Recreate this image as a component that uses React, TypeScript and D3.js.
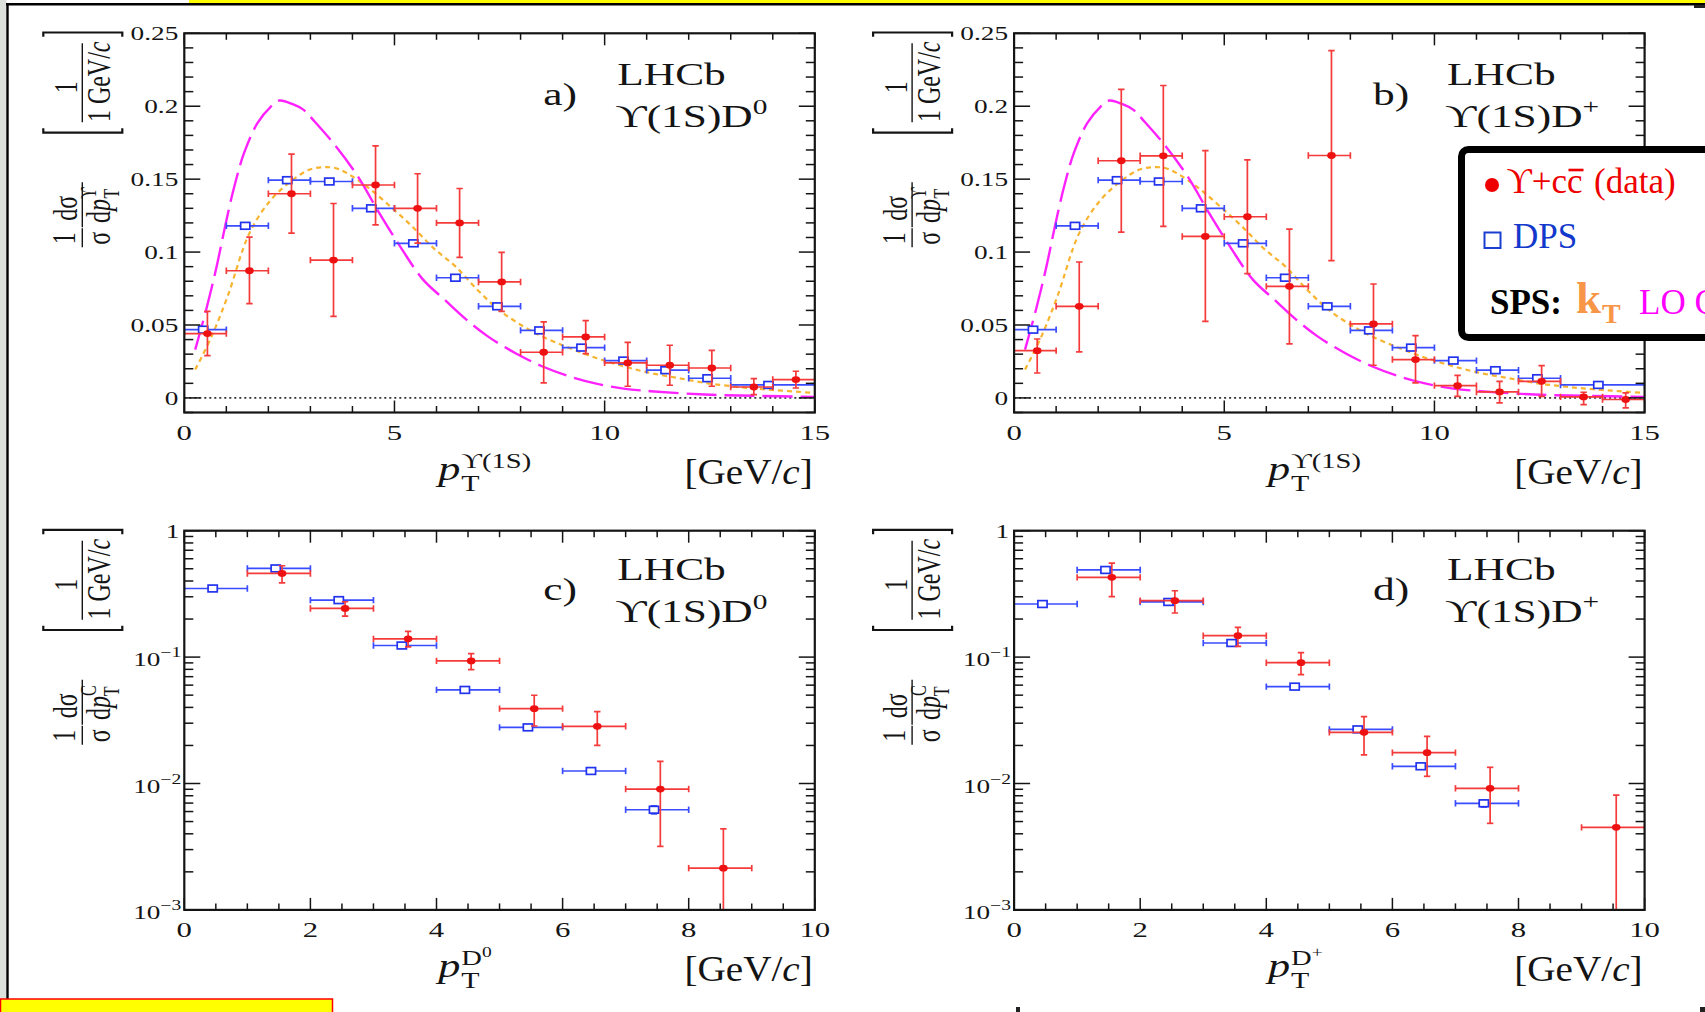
import React from 'react';
import * as d3 from 'd3';

// ---------------- data ----------------
// Upsilon pT panels (a, b): bins 0..15 GeV/c
const upsRedBinLo = [0, 1, 2, 3, 4, 5, 6, 7, 8, 9, 10, 11, 12, 13, 14];
const upsRedBinHi = [1, 2, 3, 4, 5, 6, 7, 8, 9, 10, 11, 12, 13, 14, 15];
const upsRedX = [0.55, 1.55, 2.55, 3.55, 4.55, 5.55, 6.55, 7.55, 8.55, 9.55, 10.55, 11.55, 12.55, 13.55, 14.55];

const aRedY = [0.0441, 0.0872, 0.140, 0.0945, 0.146, 0.130, 0.120, 0.0795, 0.0313, 0.0418, 0.0240, 0.0224, 0.0205, 0.0075, 0.0126];
const aRedHi = [0.0594, 0.1103, 0.1671, 0.1333, 0.1728, 0.1537, 0.1436, 0.0998, 0.0521, 0.0530, 0.0381, 0.0361, 0.0326, 0.0132, 0.0183];
const aRedLo = [0.0290, 0.0646, 0.1130, 0.0559, 0.1187, 0.1062, 0.0963, 0.0594, 0.0103, 0.0304, 0.0080, 0.0087, 0.0080, 0.0023, 0.0068];

const bRedY = [0.0324, 0.0628, 0.1626, 0.166, 0.1107, 0.1242, 0.0765, 0.1662, 0.0507, 0.0263, 0.0084, 0.0041, 0.0114, 0.0007, -0.0011];
const bRedHi = [0.0404, 0.0932, 0.2116, 0.2142, 0.1696, 0.1632, 0.1158, 0.2381, 0.0781, 0.0427, 0.0155, 0.0114, 0.0221, 0.0039, 0.0034];
const bRedLo = [0.0171, 0.0315, 0.1137, 0.1176, 0.0525, 0.0852, 0.0370, 0.0941, 0.0224, 0.0103, 0.0011, -0.0034, 0.0011, -0.0046, -0.0068];

const upsDpsBinLo = [0, 1, 2, 3, 4, 5, 6, 7, 8, 9, 10, 11, 12, 13];
const upsDpsBinHi = [1, 2, 3, 4, 5, 6, 7, 8, 9, 10, 11, 12, 13, 15];
const upsDpsX = [0.45, 1.45, 2.45, 3.45, 4.45, 5.45, 6.45, 7.45, 8.45, 9.45, 10.45, 11.45, 12.45, 13.9];
const upsDpsY = [0.0468, 0.118, 0.1493, 0.1484, 0.130, 0.106, 0.0824, 0.0628, 0.0463, 0.0345, 0.0256, 0.019, 0.0135, 0.0089];

// SPS theory curves (shared by a and b)
const loCsmX = [0.26, 0.52, 0.77, 0.97, 1.19, 1.42, 1.74, 2.06, 2.26, 2.58, 2.84, 3.10, 3.61, 4.13, 4.64, 5.16, 5.68, 6.19, 6.71, 7.22, 7.87, 8.51, 9.16, 9.80, 10.45, 11.09, 12.38, 13.67, 15.0];
const loCsmY = [0.0331, 0.0605, 0.0902, 0.1176, 0.145, 0.1678, 0.1884, 0.1998, 0.2039, 0.2014, 0.1975, 0.1895, 0.1724, 0.1518, 0.1267, 0.1027, 0.0811, 0.0674, 0.0537, 0.0422, 0.0308, 0.0217, 0.0148, 0.0098, 0.0064, 0.0046, 0.0023, 0.0014, 0.0007];
const ktX = [0.26, 0.65, 1.03, 1.55, 2.06, 2.58, 2.97, 3.32, 3.61, 3.87, 4.39, 4.90, 5.42, 5.93, 6.45, 6.97, 7.48, 8.00, 8.51, 9.16, 9.80, 10.45, 11.09, 11.74, 12.38, 13.03, 13.67, 15.0];
const ktY = [0.0194, 0.0422, 0.0696, 0.113, 0.1358, 0.1495, 0.1564, 0.1582, 0.1575, 0.1541, 0.1438, 0.1313, 0.1176, 0.1027, 0.0902, 0.0742, 0.0605, 0.0502, 0.0422, 0.0342, 0.0274, 0.0217, 0.0171, 0.0137, 0.0103, 0.0080, 0.0062, 0.0034];

// charm pT panels (c, d): bins 0..10 GeV/c
const cRedBinLo = [1, 2, 3, 4, 5, 6, 7, 8];
const cRedBinHi = [2, 3, 4, 5, 6, 7, 8, 9];
const cRedX = [1.55, 2.55, 3.55, 4.55, 5.55, 6.55, 7.55, 8.55];
const cRedY = [0.459, 0.2425, 0.1395, 0.0933, 0.0391, 0.02835, 0.00904, 0.00214];
const cRedHi = [0.528, 0.274, 0.160, 0.1067, 0.0499, 0.0370, 0.01497, 0.00438];
const cRedLo = [0.387, 0.211, 0.1205, 0.0797, 0.0285, 0.02004, 0.00318, 0.0002];

const charmDpsBinLo = [0, 1, 2, 3, 4, 5, 6, 7];
const charmDpsBinHi = [1, 2, 3, 4, 5, 6, 7, 8];
const charmDpsX = [0.45, 1.45, 2.45, 3.45, 4.45, 5.45, 6.45, 7.45];
const cDpsY = [0.349, 0.503, 0.2823, 0.1235, 0.0550, 0.0278, 0.01256, 0.00620];
const cDpsErr = [0.008, 0.012, 0.006, 0.003, 0.0012, 0.0007, 0.0005, 0.00045];

const dRedBinLo = [1, 2, 3, 4, 5, 6, 7, 9];
const dRedBinHi = [2, 3, 4, 5, 6, 7, 8, 10];
const dRedX = [1.55, 2.55, 3.55, 4.55, 5.55, 6.55, 7.55, 9.55];
const dRedY = [0.4276, 0.2795, 0.1477, 0.0903, 0.0254, 0.01754, 0.00916, 0.0045];
const dRedHi = [0.5548, 0.335, 0.172, 0.1084, 0.0338, 0.0236, 0.01343, 0.0081];
const dRedLo = [0.3006, 0.2233, 0.1217, 0.0726, 0.01682, 0.0114, 0.00484, 0.0002];
const dDpsY = [0.263, 0.489, 0.273, 0.1293, 0.0584, 0.0268, 0.01368, 0.00697];
const dDpsErr = [0.007, 0.012, 0.006, 0.003, 0.0012, 0.0007, 0.0006, 0.00045];

const linYMajor = [0, 0.05, 0.1, 0.15, 0.2, 0.25];
const linYLabels = ['0', '0.05', '0.1', '0.15', '0.2', '0.25'];
const logYMajor = [1, 0.1, 0.01, 0.001];
const logYExp = ['', '\u22121', '\u22122', '\u22123'];
const upsXMajor = [0, 5, 10, 15];
const charmXMajor = [0, 2, 4, 6, 8, 10];

// ---------------- layout / style ----------------
const PW = 630.5;
const PH = 379.2;
const SX = 1.4;
const FONT = "'Liberation Serif','DejaVu Serif','Times New Roman',serif";
const INK = '#141414';
const RED = '#ee1111';
const REDBAR = '#f43a3a';
const BLUE = '#2233ee';
const BLUEBAR = '#3a4cff';

function SText({ x, y, size, anchor = 'start', italic = false, fill = INK, sx = SX, children }: any) {
  return (
    <text transform={`translate(${x},${y}) scale(${sx},1)`} fontSize={size} textAnchor={anchor}
      fontStyle={italic ? 'italic' : 'normal'} fill={fill} fontFamily={FONT}>{children}</text>
  );
}

function RText({ x, y, size, italic = false, children }: any) {
  return (
    <text transform={`translate(${x},${y}) scale(${SX},1) rotate(-90)`} fontSize={size} textAnchor="middle"
      fontStyle={italic ? 'italic' : 'normal'} fill={INK} fontFamily={FONT}>{children}</text>
  );
}

function YTitle({ L, T, sup }: any) {
  return (
    <g>
      <path d={`M${L - 141},${T + 3.5} V${T - 0.8} H${L - 62} V${T + 3.5}`} fill="none" stroke={INK} strokeWidth={2.2} />
      <path d={`M${L - 141},${T + 95} V${T + 99.3} H${L - 62} V${T + 95}`} fill="none" stroke={INK} strokeWidth={2.2} />
      <line x1={L - 102} x2={L - 102} y1={T + 10} y2={T + 89} stroke={INK} strokeWidth={1.4} />
      <RText x={L - 107} y={T + 54} size={24}>1</RText>
      <RText x={L - 74} y={T + 48.5} size={24}>1 GeV/<tspan fontStyle="italic">c</tspan></RText>
      {/* 1/sigma dsigma/dpT */}
      <RText x={L - 109} y={T + 205} size={24}>1</RText>
      <line x1={L - 102} x2={L - 102} y1={T + 195} y2={T + 214} stroke={INK} strokeWidth={1.4} />
      <RText x={L - 74} y={T + 205} size={24}>σ</RText>
      <RText x={L - 107} y={T + 175} size={24}>dσ</RText>
      <line x1={L - 102} x2={L - 102} y1={T + 149} y2={T + 194} stroke={INK} strokeWidth={1.4} />
      <RText x={L - 74} y={T + 172} size={24}>
        d<tspan fontStyle="italic">p</tspan>
        <tspan fontSize={16} dy={-10}>{sup}</tspan>
        <tspan fontSize={16} dx={-11} dy={16}>T</tspan>
      </RText>
    </g>
  );
}

function ErrPoints({ xs, ys, binLo, binHi, px, py, pyHi, pyLo, color, barColor, marker, clipId }: any) {
  return (
    <g clipPath={`url(#${clipId})`}>
      {px.map((xv: number, i: number) => {
        const cx = xs(xv), cy = ys(py[i]);
        const x0 = xs(binLo[i]), x1 = xs(binHi[i]);
        const yT = ys(pyHi[i]), yB = ys(pyLo[i]);
        const cap = 3.2;
        return (
          <g key={i} stroke={barColor} strokeWidth={1.7} fill="none">
            <line x1={x0} x2={x1} y1={cy} y2={cy} />
            <line x1={x0} x2={x0} y1={cy - cap} y2={cy + cap} />
            <line x1={x1} x2={x1} y1={cy - cap} y2={cy + cap} />
            {Math.abs(yB - yT) > 3 && (
              <g>
                <line x1={cx} x2={cx} y1={yT} y2={yB} />
                <line x1={cx - cap} x2={cx + cap} y1={yT} y2={yT} />
                <line x1={cx - cap} x2={cx + cap} y1={yB} y2={yB} />
              </g>
            )}
            {marker === 'circle'
              ? <ellipse cx={cx} cy={cy} rx={4.3} ry={3.4} fill={color} stroke="none" />
              : <rect x={cx - 4.6} y={cy - 3.4} width={9.2} height={6.8} fill="#fff" stroke={color} strokeWidth={1.7} />}
          </g>
        );
      })}
    </g>
  );
}

function Panel({ id, ox, oy, log, xMax, xMajor, xMinorStep, letter, chan, xSup, ySup, red, dps, curves, tdy }: any) {
  const xs = d3.scaleLinear().domain([0, xMax]).range([ox, ox + PW]);
  const ys: any = log
    ? d3.scaleLog().domain([1e-3, 1]).range([oy + PH, oy])
    : d3.scaleLinear().domain([-0.01, 0.25]).range([oy + PH, oy]);
  const B = oy + PH;
  const R = ox + PW;
  const xMinor = d3.range(0, xMax + 1e-9, xMinorStep).filter((v) => !xMajor.includes(v));
  let yMinor: number[] = [];
  if (log) {
    [-3, -2, -1].forEach((e) => { for (let k = 2; k <= 9; k++) yMinor.push(k * Math.pow(10, e)); });
  } else {
    yMinor = d3.range(-0.01, 0.2501, 0.01).filter((v) => !linYMajor.some((m) => Math.abs(m - v) < 1e-6));
  }
  const yMaj = log ? logYMajor : linYMajor;
  const clipId = `clip-${id}`;
  const line = d3.line<[number, number]>().x((d) => xs(d[0])).y((d) => ys(d[1])).curve(d3.curveCatmullRom);
  return (
    <g>
      <defs>
        <clipPath id={clipId}><rect x={ox} y={oy} width={PW} height={PH} /></clipPath>
      </defs>
      {!log && (
        <line x1={ox} x2={R} y1={ys(0)} y2={ys(0)} stroke="#333" strokeWidth={1.6} strokeDasharray="2,3" />
      )}
      {curves && (
        <g clipPath={`url(#${clipId})`} fill="none">
          <path d={line(curves.ktX.map((v: number, i: number) => [v, curves.ktY[i]])) || ''} stroke="#f7b430" strokeWidth={2.2} strokeDasharray="5,4" />
          <path d={line(curves.loX.map((v: number, i: number) => [v, curves.loY[i]])) || ''} stroke="#ff22ff" strokeWidth={2.4} strokeDasharray="30,8" />
        </g>
      )}
      <ErrPoints xs={xs} ys={ys} {...dps} color={BLUE} barColor={BLUEBAR} marker="square" clipId={clipId} />
      <ErrPoints xs={xs} ys={ys} {...red} color={RED} barColor={REDBAR} marker="circle" clipId={clipId} />
      {/* frame */}
      <rect x={ox} y={oy} width={PW} height={PH} fill="none" stroke={INK} strokeWidth={2.2} />
      {/* ticks */}
      <g stroke={INK} strokeWidth={1.5}>
        {xMajor.map((v: number) => (
          <g key={'xM' + v}>
            <line x1={xs(v)} x2={xs(v)} y1={B} y2={B - 12} />
            <line x1={xs(v)} x2={xs(v)} y1={oy} y2={oy + 12} />
          </g>
        ))}
        {xMinor.map((v: number) => (
          <g key={'xm' + v}>
            <line x1={xs(v)} x2={xs(v)} y1={B} y2={B - 6.5} />
            <line x1={xs(v)} x2={xs(v)} y1={oy} y2={oy + 6.5} />
          </g>
        ))}
        {yMaj.map((v: number) => (
          <g key={'yM' + v}>
            <line x1={ox} x2={ox + 16} y1={ys(v)} y2={ys(v)} />
            <line x1={R} x2={R - 16} y1={ys(v)} y2={ys(v)} />
          </g>
        ))}
        {yMinor.map((v: number) => (
          <g key={'ym' + v}>
            <line x1={ox} x2={ox + 9} y1={ys(v)} y2={ys(v)} />
            <line x1={R} x2={R - 9} y1={ys(v)} y2={ys(v)} />
          </g>
        ))}
      </g>
      {/* tick labels */}
      {xMajor.map((v: number) => (
        <SText key={'xl' + v} x={xs(v)} y={B + 27.5} size={22} anchor="middle">{String(v)}</SText>
      ))}
      {!log && linYMajor.map((v: number, i: number) => (
        <SText key={'yl' + v} x={ox - 6} y={ys(v) + 6.8} size={19.5} anchor="end">{linYLabels[i]}</SText>
      ))}
      {log && logYMajor.map((v: number, i: number) => (
        v === 1
          ? <SText key={'yl' + v} x={ox - 5} y={ys(v) + 6.8} size={19.5} anchor="end">1</SText>
          : <SText key={'yl' + v} x={ox - 3} y={ys(v) + 9} size={19.5} anchor="end">10<tspan fontSize={14} dy={-9}>{logYExp[i]}</tspan></SText>
      ))}
      {/* axis titles */}
      <SText x={ox + 254} y={B + 67} size={34} italic sx={1.3}>p</SText>
      <SText x={ox + 277} y={B + 78} size={23} sx={1.3}>T</SText>
      <SText x={ox + 277} y={B + 55} size={22} sx={1.3}>{xSup}</SText>
      <SText x={R - 2} y={B + 71} size={35} anchor="end" sx={1.12}>[GeV/<tspan fontStyle="italic">c</tspan>]</SText>
      <YTitle L={ox} T={oy} sup={ySup} />
      {/* annotations */}
      <SText x={ox + 433} y={oy + 52 + tdy} size={31}>LHCb</SText>
      <SText x={ox + 359} y={oy + 72 + tdy} size={31}>{letter})</SText>
      <SText x={ox + 431} y={oy + 94 + tdy} size={31}>ϒ(1S)D<tspan fontSize={21} dy={-13}>{chan}</tspan></SText>
    </g>
  );
}

export default function App() {
  const curves = { loX: loCsmX, loY: loCsmY, ktX: ktX, ktY: ktY };
  const dpsUps = { binLo: upsDpsBinLo, binHi: upsDpsBinHi, px: upsDpsX, py: upsDpsY, pyHi: upsDpsY, pyLo: upsDpsY };
  const redA = { binLo: upsRedBinLo, binHi: upsRedBinHi, px: upsRedX, py: aRedY, pyHi: aRedHi, pyLo: aRedLo };
  const redB = { binLo: upsRedBinLo, binHi: upsRedBinHi, px: upsRedX, py: bRedY, pyHi: bRedHi, pyLo: bRedLo };
  const redC = { binLo: cRedBinLo, binHi: cRedBinHi, px: cRedX, py: cRedY, pyHi: cRedHi, pyLo: cRedLo };
  const dpsC = { binLo: charmDpsBinLo, binHi: charmDpsBinHi, px: charmDpsX, py: cDpsY,
    pyHi: cDpsY.map((v, i) => v + cDpsErr[i]), pyLo: cDpsY.map((v, i) => v - cDpsErr[i]) };
  const redD = { binLo: dRedBinLo, binHi: dRedBinHi, px: dRedX, py: dRedY, pyHi: dRedHi, pyLo: dRedLo };
  const dpsD = { binLo: charmDpsBinLo, binHi: charmDpsBinHi, px: charmDpsX, py: dDpsY,
    pyHi: dDpsY.map((v, i) => v + dDpsErr[i]), pyLo: dDpsY.map((v, i) => v - dDpsErr[i]) };

  return (
    <svg width={1705} height={1012} style={{ position: 'absolute', left: 0, top: 0, background: '#fff' }}>
      <rect x={0} y={0} width={1705} height={1012} fill="#fff" />
      {/* slide decorations */}
      <rect x={0} y={0} width={6.5} height={1012} fill="#dde1dc" />
      <rect x={189} y={0} width={1516} height={3} fill="#ffff00" />
      <line x1={6} x2={1705} y1={4.2} y2={4.2} stroke="#000" strokeWidth={2.4} />
      <line x1={7.5} x2={7.5} y1={3} y2={999} stroke="#000" strokeWidth={2.4} />
      <rect x={1694} y={5} width={11} height={3} fill="#222" />

      <Panel id="a" ox={184.3} oy={33.3} log={false} xMax={15} xMajor={upsXMajor} xMinorStep={1} letter="a" chan="0"
        xSup="ϒ(1S)" ySup="ϒ" red={redA} dps={dpsUps} curves={curves} tdy={0} />
      <Panel id="b" ox={1014.1} oy={33.3} log={false} xMax={15} xMajor={upsXMajor} xMinorStep={1} letter="b" chan="+"
        xSup="ϒ(1S)" ySup="ϒ" red={redB} dps={dpsUps} curves={curves} tdy={0} />
      <Panel id="c" ox={184.3} oy={530.7} log={true} xMax={10} xMajor={charmXMajor} xMinorStep={0.5} letter="c" chan="0"
        xSup={<tspan>D<tspan fontSize={15} dy={-8}>0</tspan></tspan>} ySup="C" red={redC} dps={dpsC} curves={null} tdy={-3} />
      <Panel id="d" ox={1014.1} oy={530.7} log={true} xMax={10} xMajor={charmXMajor} xMinorStep={0.5} letter="d" chan="+"
        xSup={<tspan>D<tspan fontSize={15} dy={-8}>+</tspan></tspan>} ySup="C" red={redD} dps={dpsD} curves={null} tdy={-3} />

      {/* legend overlay */}
      <g fontFamily={FONT}>
        <rect x={1461.5} y={149.5} width={270} height={188} rx={7} fill="#fff" stroke="#000" strokeWidth={7} />
        <circle cx={1492} cy={185} r={7} fill="#ee0000" />
        <text x={1567} y={193} fontSize={35} fill="#ee0000" textAnchor="end">ϒ+c</text>
        <text x={1567} y={193} fontSize={35} fill="#ee0000">c</text>
        <line x1={1568.5} x2={1583.5} y1={170} y2={170} stroke="#ee0000" strokeWidth={2.6} />
        <text x={1594} y={193} fontSize={35} fill="#ee0000">(data)</text>
        <rect x={1484.5} y={232.5} width={16} height={15.5} fill="none" stroke="#1a3fd0" strokeWidth={2} />
        <text x={1513} y={248} fontSize={35} fill="#1238cc">DPS</text>
        <text x={1490} y={314} fontSize={35} fontWeight="bold" fill="#000">SPS:</text>
        <text x={1576} y={313} fontSize={45} fontWeight="bold" fill="#f79646">k</text>
        <text x={1602} y={323} fontSize={28} fontWeight="bold" fill="#f79646">T</text>
        <text x={1639} y={314} fontSize={35} fill="#ff00ff">LO CS</text>
      </g>

      <rect x={0.5} y={999} width={332} height={14} fill="#ffff00" stroke="#ff0000" strokeWidth={1.5} />
      <rect x={1016} y={1007} width={4} height={5} fill="#222" />
      <rect x={1700} y={1007} width={5} height={5} fill="#222" />
    </svg>
  );
}
